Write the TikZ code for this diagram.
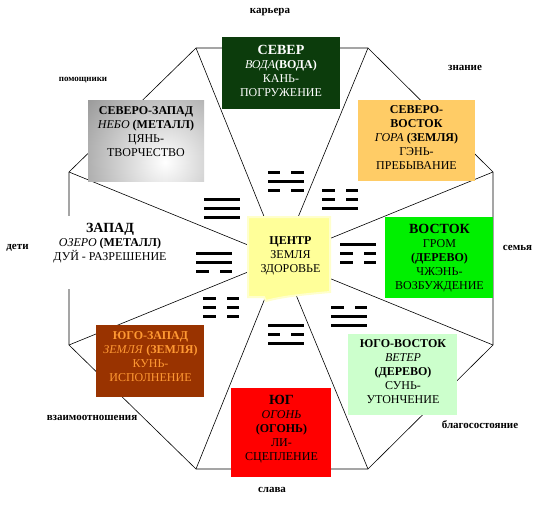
\documentclass[tikz,border=0pt]{standalone}
\usepackage{fontspec}
\setmainfont{Liberation Serif}
\definecolor{northc}{HTML}{0C3C0C}
\definecolor{nec}{HTML}{FFCC66}
\definecolor{eastc}{HTML}{00F000}
\definecolor{sec}{HTML}{CCFFCC}
\definecolor{southc}{HTML}{FF0000}
\definecolor{swc}{HTML}{993300}
\definecolor{swtext}{HTML}{FF9933}
\definecolor{ctr}{HTML}{FFFF99}
\newcommand\bighead[1]{{\fontsize{14}{14}\selectfont\bfseries #1}}
\newcommand\mytrigram[5]{%
  \pic at (#1,#2) {#3};
  \pic at (#1,#2+9) {#4};
  \pic at (#1,#2+18) {#5};}
\tikzset{
  edge/.style={draw=black, line width=0.6pt},
  lbl/.style={font=\fontsize{11}{13}\selectfont\bfseries, inner sep=0pt},
  txt/.style={align=center, inner sep=0pt, font=\fontsize{12}{14}\selectfont},
  yang/.pic={\fill (0,0) rectangle (36,3);},
  yin/.pic={\fill (0,0) rectangle (12.5,3); \fill (23.5,0) rectangle (36,3);},
}
\begin{document}
\begin{tikzpicture}[x=1pt,y=-1pt]
\useasboundingbox (0,0) rectangle (542,514);
\fill[white] (0,0) rectangle (542,514);
% octagon vertices and centre
\coordinate (v1) at (196,48);
\coordinate (v2) at (368,48);
\coordinate (v3) at (493,172);
\coordinate (v4) at (493,345);
\coordinate (v5) at (368,469);
\coordinate (v6) at (196,469);
\coordinate (v7) at (69,345);
\coordinate (v8) at (69,172);
\coordinate (c) at (281,258.5);
\draw[edge] (v1)--(v2)--(v3)--(v4)--(v5)--(v6)--(v7)--(v8)--cycle;
\foreach \v in {v1,v2,v3,v4,v5,v6,v7,v8} \draw[edge] (\v) -- (c);
% boxes
\fill[northc] (222,37) rectangle (340,109);
\fill[nec] (358,100) rectangle (475,181);
\fill[eastc] (385,217) rectangle (493,298);
\fill[sec] (348,334) rectangle (457,415);
\fill[southc] (231,388) rectangle (331,477);
\fill[swc] (96,325) rectangle (204,397);
\begin{scope}
  \clip (88,100) rectangle (204,181);
  \shade[inner color=white, outer color=black!42] (165,162) circle (105);
\end{scope}
\fill[white] (55,216) rectangle (168,289);
% centre box
\path[fill=ctr, draw=ctr!50, line width=2pt]
  (248,217) -- (330,217) -- (330,292)
  .. controls (308,294) and (284,296) .. (266,301) -- (264,297) -- (248,297) -- cycle;
% trigrams
\mytrigram{267.5}{170.5}{yin}{yang}{yin}
\mytrigram{322}{188.5}{yin}{yin}{yang}
\mytrigram{204}{197.5}{yang}{yang}{yang}
\mytrigram{196}{251.5}{yang}{yang}{yin}
\mytrigram{340}{242.5}{yang}{yin}{yin}
\mytrigram{203}{296.5}{yin}{yin}{yin}
\mytrigram{267.5}{323.5}{yang}{yin}{yang}
\mytrigram{331}{305.5}{yin}{yang}{yang}
% texts
\node[txt, text=white] (Nt) at (281,70.5) {\bighead{СЕВЕР}\\ \textit{ВОДА}\textbf{(ВОДА)}\\ КАНЬ-\\ ПОГРУЖЕНИЕ};
\node[txt] (NEt) at (416.5,138) {\textbf{СЕВЕРО-}\\ \textbf{ВОСТОК}\\ \textit{ГОРА} \textbf{(ЗЕМЛЯ)}\\ ГЭНЬ-\\ ПРЕБЫВАНИЕ};
\node[txt] (NWt) at (146,132) {\textbf{СЕВЕРО-ЗАПАД}\\ \textit{НЕБО} \textbf{(МЕТАЛЛ)}\\ ЦЯНЬ-\\ ТВОРЧЕСТВО};
\node[txt] (Wt) at (110,243.5) {\bighead{ЗАПАД}\\ \textit{ОЗЕРО} \textbf{(МЕТАЛЛ)}\\ ДУЙ - РАЗРЕШЕНИЕ};
\node[txt] (Et) at (439.5,257.7) {\bighead{ВОСТОК}\\ ГРОМ\\ \textbf{(ДЕРЕВО)}\\ ЧЖЭНЬ-\\ ВОЗБУЖДЕНИЕ};
\node[txt] (SEt) at (403,372) {\textbf{ЮГО-ВОСТОК}\\ \textit{ВЕТЕР}\\ \textbf{(ДЕРЕВО)}\\ СУНЬ-\\ УТОНЧЕНИЕ};
\node[txt] (St) at (281.5,428.7) {\bighead{ЮГ}\\ \textit{ОГОНЬ}\\ \textbf{(ОГОНЬ)}\\ ЛИ-\\ СЦЕПЛЕНИЕ};
\node[txt, text=swtext] (SWt) at (150.5,356.3) {\textbf{ЮГО-ЗАПАД}\\ \textit{ЗЕМЛЯ} \textbf{(ЗЕМЛЯ)}\\ КУНЬ-\\ ИСПОЛНЕНИЕ};
\node[txt] (Ct) at (290.5,255.5) {\textbf{ЦЕНТР}\\ ЗЕМЛЯ\\ ЗДОРОВЬЕ};
% outer labels
\node[lbl] (l1) at (270,12) {карьера};
\node[lbl] (l2) at (465,67.5) {знание};
\node[lbl] (l3) at (517.5,247.5) {семья};
\node[lbl] (l4) at (480,425) {благосостояние};
\node[lbl] (l5) at (272,490) {слава};
\node[lbl] (l6) at (92,418) {взаимоотношения};
\node[lbl] (l7) at (17.5,247.5) {дети};
\node[lbl, font=\fontsize{9}{11}\selectfont\bfseries] (l8) at (83,80) {помощники};
\end{tikzpicture}
\end{document}
